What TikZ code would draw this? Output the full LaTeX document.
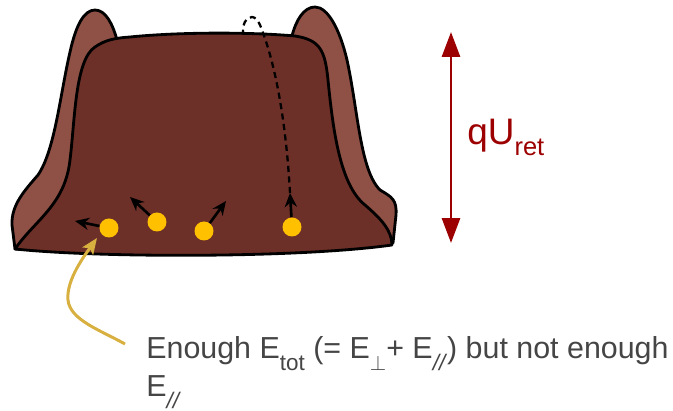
\documentclass[tikz,border=0pt]{standalone}
\usepackage{amsmath}
\usepackage{amssymb}
\usepackage{xcolor}
\usepackage{fontspec}
\setmainfont{Liberation Sans}
\usepackage{tikz}
\usetikzlibrary{arrows.meta}

\definecolor{wallbrown}{HTML}{8F5045}
\definecolor{bodybrown}{HTML}{6D3028}
\definecolor{dotyellow}{HTML}{FFC000}
\definecolor{retred}{HTML}{9C0000}
\definecolor{pointgold}{HTML}{D8B040}
\definecolor{notegray}{HTML}{454545}

\newcommand{\lowsub}[1]{\raisebox{-6.5pt}{\fontsize{12.8}{14}\selectfont #1}}

\begin{document}
\begin{tikzpicture}[x=0.02cm, y=-0.02cm]
        \tikzstyle{wall} = [draw=black, line width=1.6pt, line join=round, fill=wallbrown]
        \tikzstyle{body} = [draw=black, line width=1.6pt, line join=round, fill=bodybrown]
        \tikzstyle{particle} = [circle, fill=dotyellow, minimum size=0.38cm, inner sep=0pt]
        \tikzstyle{kick} = [line width=1.5pt, -{Stealth[length=8pt, width=7pt]}]
        \tikzstyle{trail} = [line width=1.3pt, dash pattern=on 3.5pt off 2.5pt]
        \tikzstyle{retarrow} = [retred, line width=1.7pt, {Triangle[length=0.5cm, width=0.36cm]}-{Triangle[length=0.5cm, width=0.36cm]}]
        \tikzstyle{pointer} = [pointgold, line width=1.7pt, -{Stealth[length=0.32cm, width=0.26cm, inset=2pt]}]
        \tikzstyle{note} = [text=notegray, inner sep=0pt, anchor=base west, font=\fontsize{17.3}{21}\selectfont]

        \useasboundingbox (0,0) rectangle (673,411);

        % side walls with the two ears
        \path[wall] (15,249) -- (12,225) .. controls (11,205) and (25,190) .. (38,175)
                .. controls (55,150) and (60,95) .. (70,52)
                .. controls (76,25) and (84,10) .. (95,10)
                .. controls (106,10) and (113,25) .. (117,40)
                -- (292,36)
                .. controls (296,20) and (304,7) .. (315,7)
                .. controls (328,7) and (340,30) .. (347,60)
                .. controls (358,110) and (360,170) .. (380,190)
                .. controls (392,197) and (397,200) .. (396,215)
                -- (393,243) -- cycle;

        % trapped volume
        \path[body] (15,249) .. controls (35,220) and (65,205) .. (70,160)
                .. controls (75,120) and (75,60) .. (95,47)
                .. controls (105,40) and (115,38) .. (130,37)
                .. controls (180,32) and (250,32) .. (295,36)
                .. controls (320,40) and (325,50) .. (328,80)
                .. controls (333,130) and (340,185) .. (365,205)
                .. controls (380,218) and (392,230) .. (392,245)
                .. controls (300,258) and (100,258) .. (15,249) -- cycle;

        % particles and their momenta
        \node (e1) [particle] at (109,228) {};
        \node (e2) [particle] at (157,222) {};
        \node (e3) [particle] at (204,231) {};
        \node (e4) [particle] at (292,227) {};
        \coordinate (p1) at (75,221);
        \coordinate (p2) at (130,197);
        \coordinate (p3) at (226,201);
        \coordinate (p4) at (290,193);
        \draw [kick] (e1) -- (p1);
        \draw [kick] (e2) -- (p2);
        \draw [kick] (e3) -- (p3);
        \draw [kick] (e4) -- (p4);

        % escaping path over the barrier
        \draw [trail] (p4) .. controls (286,120) and (275,65) .. (263,33)
                .. controls (259,20) and (255,17) .. (252,17)
                .. controls (246,17) and (242,25) .. (243,32);

        % retarding potential
        \coordinate (rtop) at (451,32);
        \coordinate (rbot) at (451,243);
        \draw [retarrow] (rtop) -- (rbot);
        \node (ret) [note, text=retred, font=\fontsize{21}{26}\selectfont] at (467,145) {qU\raisebox{-6pt}{\fontsize{14.5}{18}\selectfont ret}};

        % annotation
        \node (note1) [note] at (146,359) {Enough E\lowsub{tot} (= E\lowsub{$\perp$}+ E\lowsub{\textit{//}}) but not enough};
        \node (note2) [note] at (146,397) {E\lowsub{\textit{//}}};
        \coordinate (tail) at (125,344);
        \coordinate (aim) at (97,238);
        \draw [pointer] (tail) .. controls (100,330) and (70,320) .. (68,300)
                .. controls (66,280) and (85,255) .. (aim);
\end{tikzpicture}
\end{document}
